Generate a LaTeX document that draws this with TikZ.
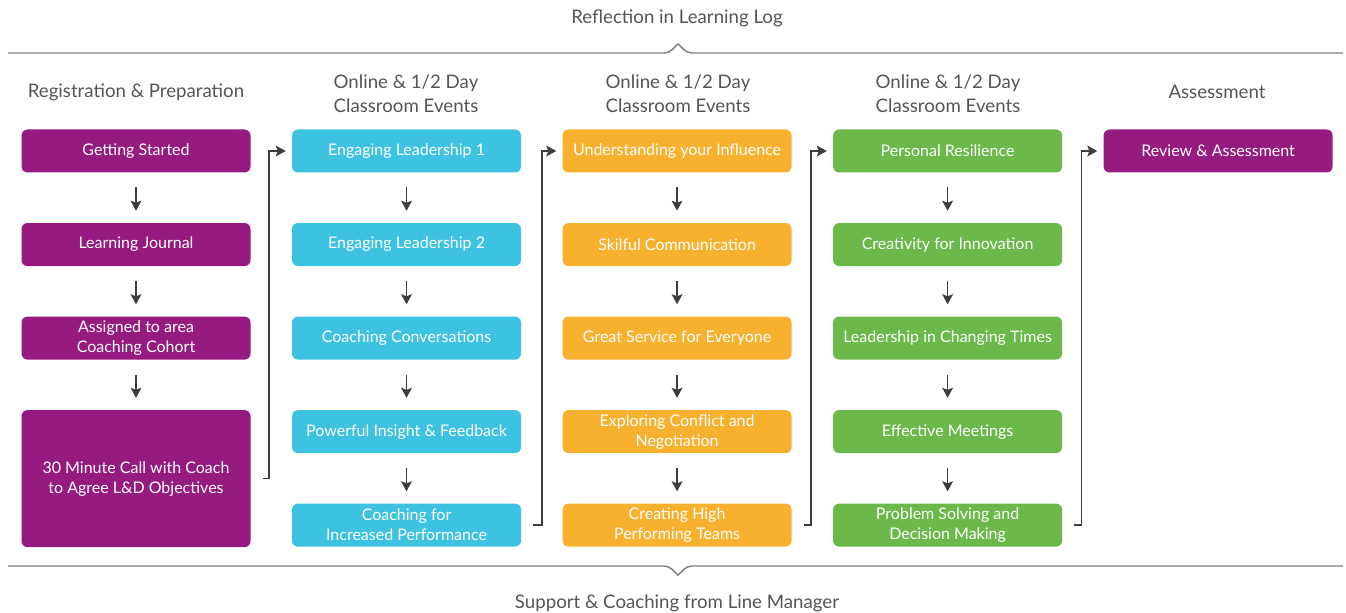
\documentclass[tikz,border=0pt]{standalone}
\usepackage{fontspec}
\setmainfont{Lato}
\usetikzlibrary{positioning,arrows.meta}
\definecolor{stagePurple}{HTML}{961B80}
\definecolor{stageCyan}{HTML}{3EC2E2}
\definecolor{stageOrange}{HTML}{F7B12F}
\definecolor{stageGreen}{HTML}{6BB84B}
\definecolor{headGray}{HTML}{555555}
\definecolor{arrowGray}{HTML}{3D3D3D}
\definecolor{ruleGray}{HTML}{808080}
\tikzset{
    flow/.style={rounded corners=4.5pt,text=white,minimum width=171.75pt,
        minimum height=32.25pt,inner sep=1pt,align=center,
        font=\fontsize{12}{15}\selectfont},
    flowpurple/.style={flow,fill=stagePurple},
    flowcyan/.style={flow,fill=stageCyan},
    floworange/.style={flow,fill=stageOrange},
    flowgreen/.style={flow,fill=stageGreen},
    head/.style={text=headGray,align=center,font=\fontsize{14}{18}\selectfont},
    arrow/.style={-{Stealth[length=7.5pt,width=8pt,inset=1.5pt]},draw=arrowGray,
        line width=1.3pt,shorten <=11pt,shorten >=9pt},
    link/.style={-{Stealth[length=7.5pt,width=8pt,inset=1.5pt]},draw=arrowGray,
        line width=1.3pt,shorten <=9pt,shorten >=4.5pt},
    rule/.style={draw=ruleGray,line width=1.1pt}
}
\begin{document}
\begin{tikzpicture}[x=0.75pt,y=-0.75pt,node distance=37.5pt and 30.75pt]
    \useasboundingbox (0,0) rectangle (1346,613);
    % side notes and rules
    \node[head] (reflect) at (677,18) {Reflection in Learning Log};
    \node[head] (support) at (677,603) {Support \& Coaching from Line Manager};
    \draw[rule] (8,53) -- (664,53) .. controls (671,53) and (674,47) .. (678,44)
        .. controls (682,47) and (685,53) .. (692,53) -- (1343,53);
    \draw[rule] (8,566) -- (664,566) .. controls (671,566) and (674,572) .. (678,575)
        .. controls (682,572) and (685,566) .. (692,566) -- (1343,566);
    % headers
    \node[head] (hreg) at (136,92) {Registration \& Preparation};
    \node[head] (hone) at (406,94) {Online \& 1/2 Day\\Classroom Events};
    \node[head] (htwo) at (678,94) {Online \& 1/2 Day\\Classroom Events};
    \node[head] (hthree) at (948,94) {Online \& 1/2 Day\\Classroom Events};
    \node[head] (hassess) at (1217,92) {Assessment};
    % registration
    \node[flowpurple] (start) at (136,151) {Getting Started};
    \node[flowpurple] (journal) [below=of start] {Learning Journal};
    \node[flowpurple] (cohort) [below=of journal] {Assigned to area\\Coaching Cohort};
    \node[flowpurple,minimum height=102.75pt] (call) [below=of cohort] {30 Minute Call with Coach\\to Agree L\&D Objectives};
    % first events
    \node[flowcyan] (leadone) [right=of start] {Engaging Leadership 1};
    \node[flowcyan] (leadtwo) [below=of leadone] {Engaging Leadership 2};
    \node[flowcyan] (convo) [below=of leadtwo] {Coaching Conversations};
    \node[flowcyan] (insight) [below=of convo] {Powerful Insight \& Feedback};
    \node[flowcyan] (perform) [below=of insight] {Coaching for\\Increased Performance};
    % second events
    \node[floworange] (influence) [right=of leadone] {Understanding your Influence};
    \node[floworange] (skilful) [below=of influence] {Skilful Communication};
    \node[floworange] (service) [below=of skilful] {Great Service for Everyone};
    \node[floworange] (conflict) [below=of service] {Exploring Conflict and\\Negotiation};
    \node[floworange] (teams) [below=of conflict] {Creating High\\Performing Teams};
    % third events
    \node[flowgreen] (resil) [right=of influence] {Personal Resilience};
    \node[flowgreen] (creative) [below=of resil] {Creativity for Innovation};
    \node[flowgreen] (change) [below=of creative] {Leadership in Changing Times};
    \node[flowgreen] (meet) [below=of change] {Effective Meetings};
    \node[flowgreen] (solve) [below=of meet] {Problem Solving and\\Decision Making};
    % assessment
    \node[flowpurple] (review) [right=of resil] {Review \& Assessment};
    % arrows in columns
    \draw[arrow] (start) -- (journal);
    \draw[arrow] (journal) -- (cohort);
    \draw[arrow] (cohort) -- (call);
    \draw[arrow] (leadone) -- (leadtwo);
    \draw[arrow] (leadtwo) -- (convo);
    \draw[arrow] (convo) -- (insight);
    \draw[arrow] (insight) -- (perform);
    \draw[arrow] (influence) -- (skilful);
    \draw[arrow] (skilful) -- (service);
    \draw[arrow] (service) -- (conflict);
    \draw[arrow] (conflict) -- (teams);
    \draw[arrow] (resil) -- (creative);
    \draw[arrow] (creative) -- (change);
    \draw[arrow] (change) -- (meet);
    \draw[arrow] (meet) -- (solve);
    % links between columns
    \draw[link] (call.east) -- ++(18,0) |- (leadone.west);
    \draw[link] (perform.east) -- ++(21,0) |- (influence.west);
    \draw[link] (teams.east) -- ++(19,0) |- (resil.west);
    \draw[link] (solve.east) -- ++(19,0) |- (review.west);
\end{tikzpicture}
\end{document}
